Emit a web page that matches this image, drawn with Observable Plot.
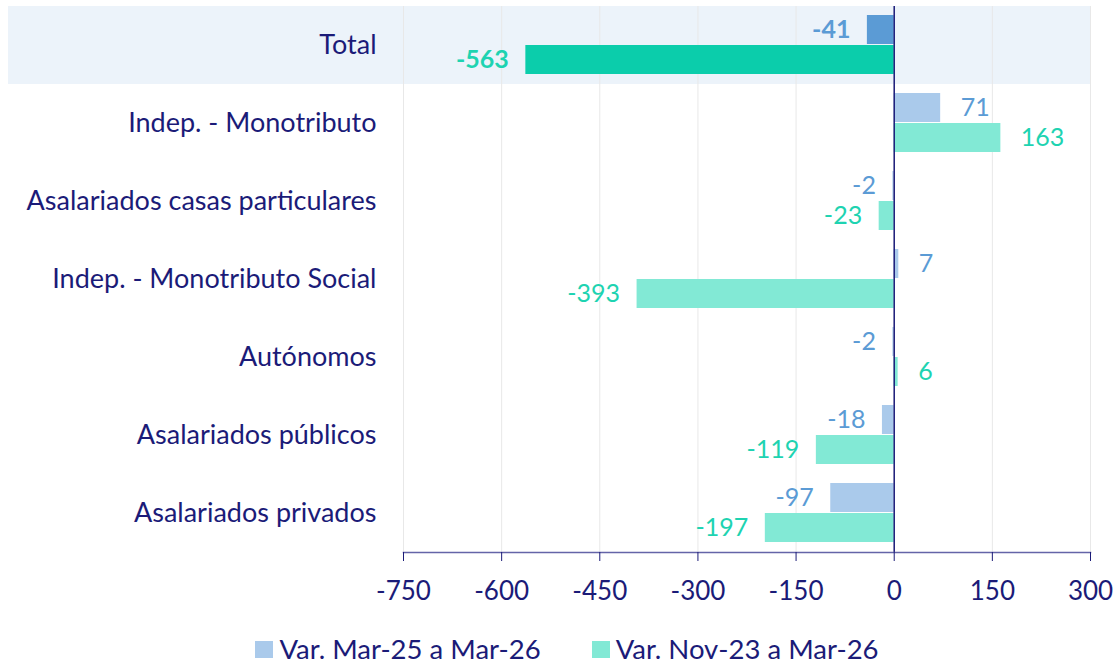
<!DOCTYPE html>
<html>
<head>
<meta charset="utf-8">
<script src="https://cdn.jsdelivr.net/npm/d3@7"></script>
<script src="https://cdn.jsdelivr.net/npm/@observablehq/plot@0.6"></script>
<style>
  body { margin: 0; background: #fff; font-family: Lato, "Noto Sans", sans-serif; }
  #chart { width: 1120px; }
  .legend { display: flex; justify-content: center; align-items: center; gap: 51px; height: 44px; padding-top: 6px; font-size: 27.5px; color: #1b1b78; margin-left: 14px; }
  .legend .item { display: flex; align-items: center; gap: 6px; }
  .legend .sw { width: 18px; height: 17px; display: inline-block; margin-top: 3px; }
</style>
</head>
<body>
<div id="chart"></div>
<script>
const categories = ["Total", "Indep. - Monotributo", "Asalariados casas particulares", "Indep. - Monotributo Social", "Autónomos", "Asalariados públicos", "Asalariados privados"];
const seriesNames = ["Var. Mar-25 a Mar-26", "Var. Nov-23 a Mar-26"];
const varMar25 = [-41, 71, -2, 7, -2, -18, -97];
const varNov23 = [-563, 163, -23, -393, 6, -119, -197];
const xTicks = [-750, -600, -450, -300, -150, 0, 150, 300];

const navy = "#1b1b78";
const barLight = ["#aacaeb", "#82e9d5"];
const barDark = ["#5b9bd5", "#0bcdab"];
const textCol = ["#5b9bd5", "#1ed3b1"];

const rows = [];
categories.forEach((c, i) => {
  rows.push({cat: c, serie: seriesNames[0], s: 0, value: varMar25[i]});
  rows.push({cat: c, serie: seriesNames[1], s: 1, value: varNov23[i]});
});
const isTotal = d => d.cat === "Total";

function labels(filter, opts) {
  return Plot.text(rows.filter(filter), {
    fy: "cat", y: "serie", x: "value", text: d => String(d.value),
    fill: d => textCol[d.s], fontSize: 25, ...opts
  });
}

const plot = Plot.plot({
  width: 1120,
  height: 620,
  marginLeft: 403,
  marginRight: 30,
  marginTop: 5,
  marginBottom: 67,
  style: {fontFamily: "Lato, 'Noto Sans', sans-serif", background: "transparent"},
  x: {domain: [-750, 300]},
  fy: {domain: categories, padding: 0},
  y: {domain: seriesNames, paddingInner: 0.03, paddingOuter: 0.28, axis: null},
  color: {type: "identity"},
  marks: [
    Plot.rect([categories[0]], {fy: d => d, x1: -750, x2: 300, fill: "#ecf3fa", insetLeft: -395}),
    Plot.gridX({ticks: xTicks, stroke: "#e8e8e8", strokeOpacity: 1}),
    Plot.barX(rows, {fy: "cat", y: "serie", x: "value", fill: d => isTotal(d) ? barDark[d.s] : barLight[d.s]}),
    labels(d => d.value < 0 && !isTotal(d), {textAnchor: "end", dx: -17}),
    labels(d => d.value >= 0 && !isTotal(d), {textAnchor: "start", dx: 20}),
    labels(d => d.value < 0 && isTotal(d), {textAnchor: "end", dx: -17, fontWeight: "bold"}),
    labels(d => d.value >= 0 && isTotal(d), {textAnchor: "start", dx: 20, fontWeight: "bold"}),
    Plot.ruleX([0], {stroke: navy, strokeWidth: 1.5}),
    Plot.frame({anchor: "bottom", facetAnchor: "bottom", stroke: "#6464a8", strokeWidth: 1.5}),
    Plot.axisX({ticks: xTicks, tickSize: 9, tickPadding: 20, fontSize: 26, color: navy, label: null, tickFormat: d => String(d)}),
    Plot.axisFy({anchor: "left", label: null, tickSize: 0, tickPadding: 27, fontSize: 27, color: navy})
  ]
});
document.getElementById("chart").appendChild(plot);

const legend = document.createElement("div");
legend.className = "legend";
seriesNames.forEach((n, i) => {
  const it = document.createElement("div");
  it.className = "item";
  const sw = document.createElement("span");
  sw.className = "sw";
  sw.style.background = barLight[i];
  const t = document.createElement("span");
  t.textContent = n;
  it.appendChild(sw); it.appendChild(t);
  legend.appendChild(it);
});
document.getElementById("chart").appendChild(legend);
</script>
</body>
</html>
